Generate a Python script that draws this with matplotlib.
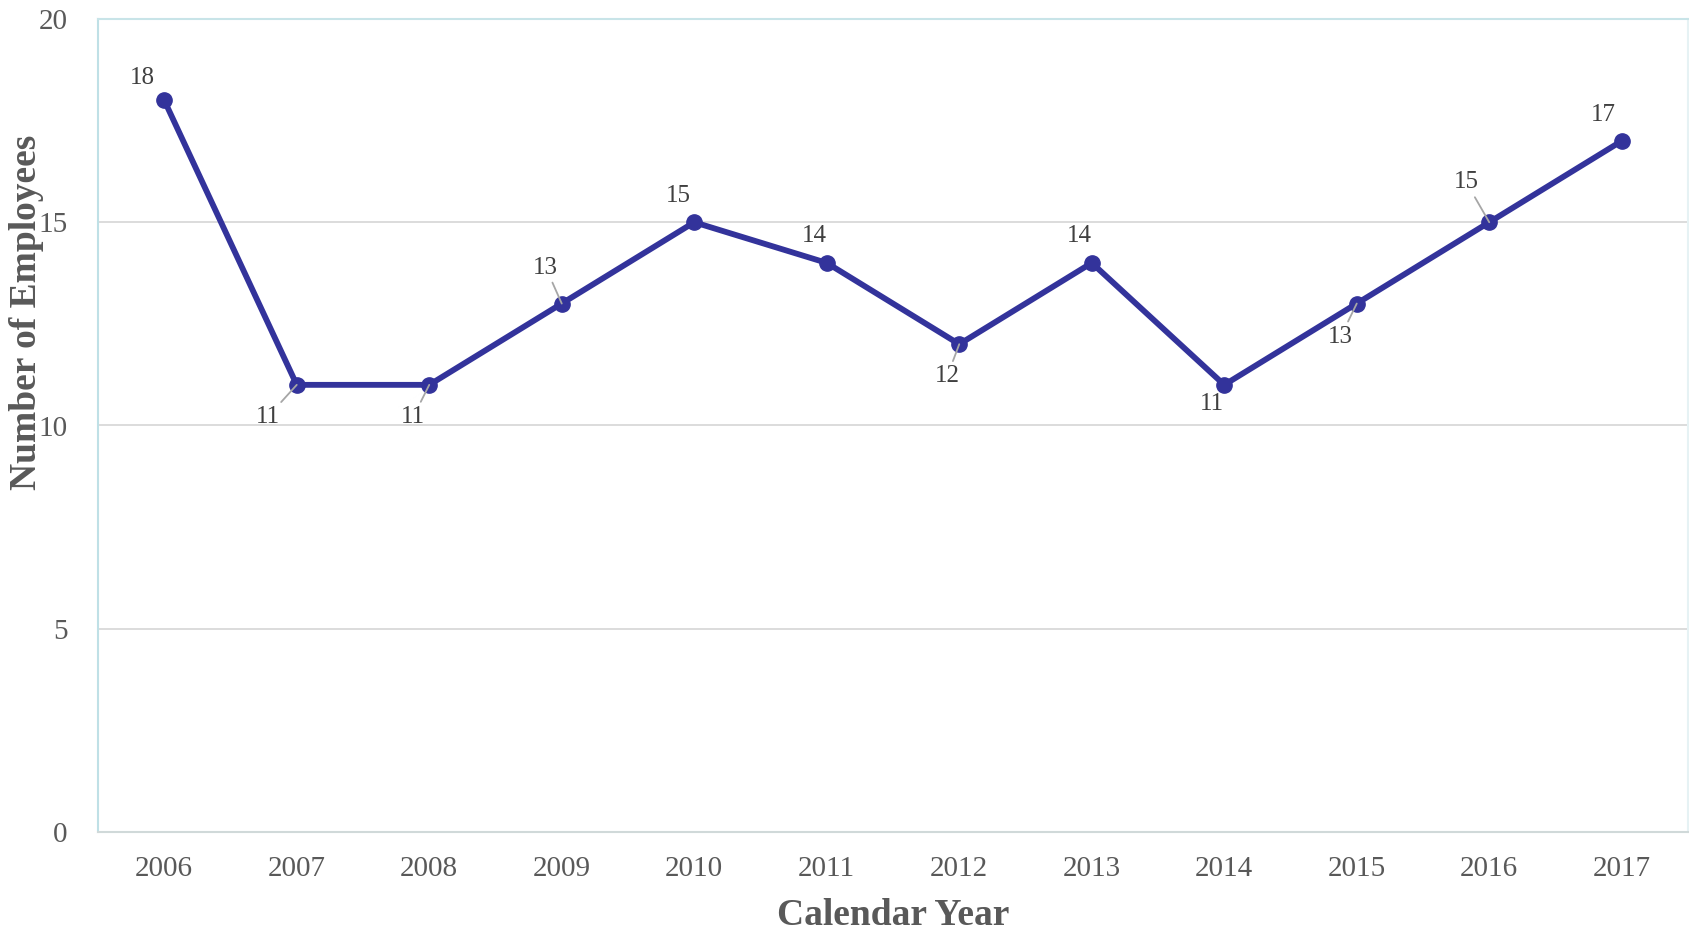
import numpy as np
import matplotlib.pyplot as plt

plt.rcParams['font.family'] = ['Liberation Serif', 'DejaVu Serif']

years = ['2006', '2007', '2008', '2009', '2010', '2011',
         '2012', '2013', '2014', '2015', '2016', '2017']
employees = [18, 11, 11, 13, 15, 14, 12, 14, 11, 13, 15, 17]

# label offsets in pixels (dx, dy up), and whether a leader line is drawn
offsets = [(-22, 22), (-29, -32), (-16, -32), (-16, 36), (-16, 26), (-12, 27),
           (-12, -32), (-12, 27), (-12, -19), (-16, -33), (-23, 40), (-18, 26)]
leaders = [False, True, True, True, False, False,
           True, False, False, True, True, False]

line_color = '#33339b'
text_gray = '#595959'

fig = plt.figure(figsize=(16.9, 9.3), dpi=100)
ax = fig.add_axes([98/1690, 1 - 832/930, 1590/1690, 813/930])

x = np.arange(len(years))
ax.plot(x, employees, color=line_color, lw=4.2, marker='o', ms=11,
        solid_capstyle='round', zorder=3)

for xi, yi, (dx, dy), lead in zip(x, employees, offsets, leaders):
    kw = {}
    if lead:
        kw['arrowprops'] = dict(arrowstyle='-', color='#a6a6a6', lw=1.3,
                                shrinkA=1, shrinkB=0)
    ax.annotate(str(yi), (xi, yi), xytext=(dx * 0.72, dy * 0.72),
                textcoords='offset points', ha='center', va='center',
                fontsize=18, color='#404040', **kw)

ax.set_xlim(-0.5, len(years) - 0.5)
ax.set_ylim(0, 20)
ax.set_yticks([0, 5, 10, 15, 20])
ax.set_xticks(x)
ax.set_xticklabels(years)
ax.tick_params(axis='both', length=0, labelsize=21, labelcolor=text_gray)
ax.tick_params(axis='x', pad=17)
ax.tick_params(axis='y', pad=22)

ax.grid(axis='y', color='#d9d9d9', lw=1.3)
ax.set_axisbelow(True)

ax.spines['left'].set_color('#bfe0e6')
ax.spines['top'].set_color('#c8e4e8')
ax.spines['right'].set_color('#e6f2f4')
ax.spines['bottom'].set_color('#d0d9d9')
for s in ax.spines.values():
    s.set_linewidth(1.5)

ax.set_xlabel('Calendar Year', fontsize=27, fontweight='bold', color=text_gray,
              labelpad=12)
fig.text(27/1690, 1 - 312/930, 'Number of Employees', rotation=90,
         ha='center', va='center', fontsize=27, fontweight='bold',
         color=text_gray)

plt.savefig('out.png')
